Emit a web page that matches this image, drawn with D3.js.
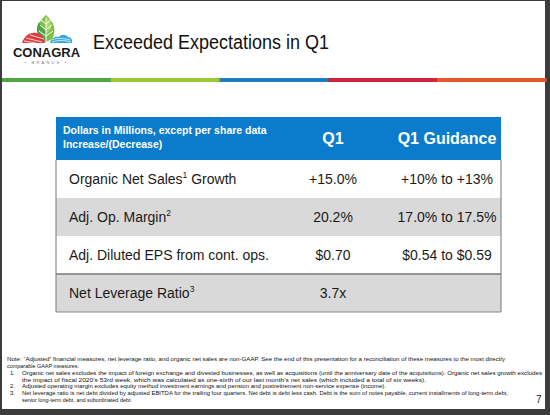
<!DOCTYPE html>
<html><head><meta charset="utf-8">
<script src="https://cdn.jsdelivr.net/npm/d3@7"></script>
<style>
html,body{margin:0;padding:0;background:#3a3a3a;}
svg{display:block;font-family:"Liberation Sans",Arial,sans-serif;}
</style></head>
<body>
<script>
// ---- data ----
const title = "Exceeded Expectations in Q1";
const headerNote = ["Dollars in Millions, except per share data", "Increase/(Decrease)"];
const columns = ["Q1", "Q1 Guidance"];
const metrics = ["Organic Net Sales", "Adj. Op. Margin", "Adj. Diluted EPS from cont. ops.", "Net Leverage Ratio"];
const metricSup = ["1", "2", "", "3"];
const metricTail = [" Growth", "", "", ""];
const q1Values = ["+15.0%", "20.2%", "$0.70", "3.7x"];
const guidance = ["+10% to +13%", "17.0% to 17.5%", "$0.54 to $0.59", ""];
const stripeColors = ["#4ea646", "#9cc93c", "#1b7dc3", "#d0243c", "#e2582c"];
const footnotes = [
  {n:"", t:"Note: \u201cAdjusted\u201d financial measures, net leverage ratio, and organic net sales are non-GAAP. See the end of this presentation for a reconciliation of these measures to the most directly", w:498},
  {n:"", t:"comparable GAAP measures.", w:72},
  {n:"1.", t:"Organic net sales excludes the impact of foreign exchange and divested businesses, as well as acquisitions (until the anniversary date of the acquisitions). Organic net sales growth excludes", w:520},
  {n:"", t:"the impact of fiscal 2020\u2019s 53rd week, which was calculated as one-sixth of our last month\u2019s net sales (which included a total of six weeks).", w:404},
  {n:"2.", t:"Adjusted operating margin excludes equity method investment earnings and pension and postretirement non-service expense (income).", w:364},
  {n:"3.", t:"Net leverage ratio is net debt divided by adjusted EBITDA for the trailing four quarters.  Net debt is debt less cash.  Debt is the sum of notes payable, current installments of long-term debt,", w:486},
  {n:"", t:"senior long-term debt, and subordinated debt.", w:110}
];
const pageNumber = "7";

// ---- drawing ----
const W = 550, H = 415;
const svg = d3.select("body").append("svg").attr("width", W).attr("height", H);

// slide frame
svg.append("rect").attr("width", W).attr("height", H).attr("fill", "#3c3c3c");
svg.append("rect").attr("x", 2).attr("y", 1).attr("width", 543).attr("height", 408).attr("fill", "#ffffff");

// logo
const logo = svg.append("g");
logo.append("path").attr("d", "M46,15 C54,22 57,30 52,39 L46,42 L40,39 C35,30 38,22 46,15 Z").attr("fill", "#7cc142");
logo.append("path").attr("d", "M46,15 C50,19 52,24 51,29 L46,34 Z").attr("fill", "#a9d46a");
logo.append("path").attr("d", "M46,42 L40,39 C36,33 36,27 39,22 L46,32 Z").attr("fill", "#4ea646");
logo.append("path").attr("d", "M46,18 L46,42 M46,24 L41,20 M46,24 L51,20 M46,30 L40,25 M46,30 L52,25 M46,36 L39,31 M46,36 L53,31")
  .attr("stroke", "#fff").attr("stroke-width", 1).attr("fill", "none");
logo.append("path").attr("d", "M22,43 C24,36 30,32 36,33 C40,33 44,36 45,43 Z").attr("fill", "#e0393e");
logo.append("path").attr("d", "M26,38 L42,42 M24,41 L36,43 M30,35 L44,39").attr("stroke", "#fff").attr("stroke-width", 0.8);
logo.append("path").attr("d", "M50,43 C51,38 55,36 59,37 C61,34 66,34 68,37 C71,37 73,40 72,43 Z").attr("fill", "#3aa8dc");
logo.append("path").attr("d", "M52,40 C56,38 62,38 70,40 M52,42 C58,40 64,40 71,42").attr("stroke", "#fff").attr("stroke-width", 0.7).attr("fill", "none");
logo.append("text").attr("x", 46.5).attr("y", 57).attr("text-anchor", "middle")
  .attr("font-size", 13).attr("font-weight", "bold").attr("fill", "#1a1a1a").text("CONAGRA");
logo.append("text").attr("x", 46.5).attr("y", 63.5).attr("text-anchor", "middle")
  .attr("font-size", 4).attr("letter-spacing", 2.2).attr("fill", "#777").text("\u2022 BRANDS \u2022");

// title
svg.append("text").attr("x", 93).attr("y", 49).attr("font-size", 19.5).attr("fill", "#111")
  .attr("textLength", 236).attr("lengthAdjust", "spacingAndGlyphs").text(title);

// colored stripe
const sx = d3.scaleBand().domain(d3.range(stripeColors.length)).range([2, 546]);
svg.selectAll("rect.stripe").data(stripeColors).join("rect").attr("class", "stripe")
  .attr("x", (d, i) => sx(i)).attr("y", 78).attr("width", sx.bandwidth() + 0.5).attr("height", 4).attr("fill", d => d);

// table
const tx0 = 56, tx1 = 501;
const headTop = 117, headBot = 160, tableBot = 312;
const ry = d3.scaleBand().domain(d3.range(metrics.length)).range([headBot, tableBot]);
const colX = d3.scaleOrdinal().domain(["label", ...columns]).range([69, 333, 447]);

svg.append("rect").attr("x", tx0).attr("y", headTop).attr("width", tx1 - tx0).attr("height", headBot - headTop).attr("fill", "#0b7ccb");
svg.append("text").attr("x", 63).attr("y", 134).attr("font-size", 10.5).attr("font-weight", "bold").attr("fill", "#fff").text(headerNote[0]);
svg.append("text").attr("x", 63).attr("y", 148).attr("font-size", 10.5).attr("font-weight", "bold").attr("fill", "#fff").text(headerNote[1]);
svg.selectAll("text.colhead").data(columns).join("text").attr("class", "colhead")
  .attr("x", d => colX(d)).attr("y", 144).attr("text-anchor", "middle")
  .attr("font-size", 16).attr("font-weight", "bold").attr("fill", "#fff").text(d => d);

const rows = svg.selectAll("g.row").data(metrics).join("g").attr("class", "row")
  .attr("transform", (d, i) => `translate(0,${ry(i)})`);
rows.append("rect").attr("x", tx0).attr("width", tx1 - tx0).attr("height", ry.bandwidth())
  .attr("fill", (d, i) => i % 2 ? "#d9d9d9" : "#ffffff");
const fs = 14;
const lab = rows.append("text").attr("x", colX("label")).attr("y", ry.bandwidth() / 2 + 5).attr("font-size", fs).attr("fill", "#1a1a1a");
lab.append("tspan").text(d => d);
lab.append("tspan").attr("font-size", 8.5).attr("dy", -6).text((d, i) => metricSup[i]);
lab.append("tspan").attr("dy", 6).text((d, i) => metricTail[i]);
rows.append("text").attr("x", colX(columns[0])).attr("y", ry.bandwidth() / 2 + 5).attr("text-anchor", "middle")
  .attr("font-size", fs).attr("fill", "#1a1a1a").text((d, i) => q1Values[i]);
rows.append("text").attr("x", colX(columns[1])).attr("y", ry.bandwidth() / 2 + 5).attr("text-anchor", "middle")
  .attr("font-size", fs).attr("fill", "#1a1a1a").text((d, i) => guidance[i]);

// borders
const bc = "#8a8a8a";
svg.append("line").attr("x1", tx0).attr("x2", tx0).attr("y1", headBot).attr("y2", tableBot).attr("stroke", bc).attr("stroke-width", 1.2);
svg.append("line").attr("x1", tx1).attr("x2", tx1).attr("y1", headBot).attr("y2", tableBot).attr("stroke", bc).attr("stroke-width", 1.2);
svg.append("line").attr("x1", tx0).attr("x2", tx1).attr("y1", tableBot).attr("y2", tableBot).attr("stroke", bc).attr("stroke-width", 1.2);
svg.append("line").attr("x1", tx0).attr("x2", tx1).attr("y1", ry(3)).attr("y2", ry(3)).attr("stroke", "#777").attr("stroke-width", 1.3);

// footnotes
const fy = d3.scaleLinear().domain([0, footnotes.length - 1]).range([361, 402]);
const fn = svg.selectAll("g.fn").data(footnotes).join("g").attr("class", "fn");
fn.append("text").attr("x", 10).attr("y", (d, i) => fy(i)).attr("font-size", 6).attr("fill", "#111").text(d => d.n);
fn.append("text").attr("x", (d, i) => i < 2 ? 7 : 22).attr("y", (d, i) => fy(i)).attr("font-size", 6).attr("fill", "#111")
  .attr("textLength", d => d.w).attr("lengthAdjust", "spacingAndGlyphs").text(d => d.t);
svg.append("text").attr("x", 536).attr("y", 403).attr("font-size", 10).attr("fill", "#222").text(pageNumber);
</script>
</body></html>
